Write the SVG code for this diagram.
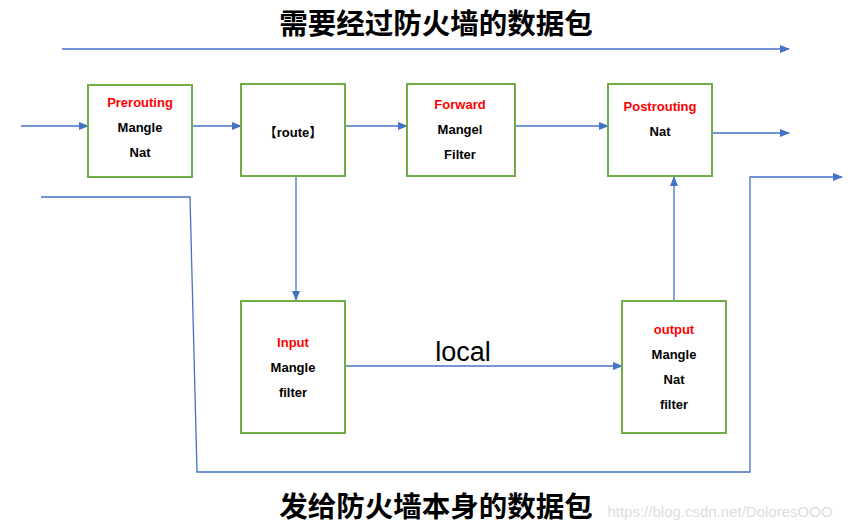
<svg xmlns="http://www.w3.org/2000/svg" width="859" height="529" viewBox="0 0 859 529">
<style>
.box{fill:#fff;stroke:#70AD47;stroke-width:2}
.ln{fill:none;stroke:#4472C4;stroke-width:1.3}
.t{font-family:"Liberation Sans","Noto Sans CJK SC",sans-serif;font-size:13px;font-weight:bold;text-anchor:middle;fill:#000}
.r{fill:#FF0000}
.h{font-family:"Noto Sans CJK SC",sans-serif;font-size:28.5px;font-weight:bold;text-anchor:middle}
</style>
<defs><marker id="a" markerWidth="10" markerHeight="8" refX="9" refY="4" orient="auto" markerUnits="userSpaceOnUse"><path d="M0,0L10,4L0,8z" fill="#4472C4"/></marker></defs>
<rect width="859" height="529" fill="#fff"/>
<text class="h" x="436" y="34">需要经过防火墙的数据包</text>
<text class="h" x="436" y="517">发给防火墙本身的数据包</text>
<g id="connectors">
<line class="ln" x1="62" y1="49" x2="789" y2="49" marker-end="url(#a)"/>
<line class="ln" x1="21" y1="126" x2="88" y2="126" marker-end="url(#a)"/>
<line class="ln" x1="192" y1="126" x2="241" y2="126" marker-end="url(#a)"/>
<line class="ln" x1="345" y1="126" x2="407" y2="126" marker-end="url(#a)"/>
<line class="ln" x1="515" y1="126" x2="608" y2="126" marker-end="url(#a)"/>
<line class="ln" x1="712" y1="133" x2="789" y2="133" marker-end="url(#a)"/>
<line class="ln" x1="296" y1="176" x2="296" y2="300" marker-end="url(#a)"/>
<line class="ln" x1="674" y1="301" x2="674" y2="177" marker-end="url(#a)"/>
<line class="ln" x1="345" y1="366" x2="622" y2="366" marker-end="url(#a)"/>
<polyline class="ln" points="41,197 190,197 197,472 750,472 750,177 842,177" marker-end="url(#a)"/>
</g>
<g id="prerouting"><rect class="box" x="88" y="85" width="104" height="92"/>
<text class="t r" x="140" y="107" font-size="11">Prerouting</text><text class="t" x="140" y="132" font-size="11">Mangle</text><text class="t" x="140" y="157" font-size="11">Nat</text></g>
<g id="route"><rect class="box" x="241" y="84" width="104" height="92"/><text class="t" x="293" y="137">【route】</text></g>
<g id="forward"><rect class="box" x="407" y="84" width="108" height="92"/>
<text class="t r" x="460" y="109">Forward</text><text class="t" x="460" y="134">Mangel</text><text class="t" x="460" y="159">Filter</text></g>
<g id="postrouting"><rect class="box" x="608" y="84" width="104" height="92"/>
<text class="t r" x="660" y="111">Postrouting</text><text class="t" x="660" y="136">Nat</text></g>
<g id="input"><rect class="box" x="241" y="301" width="104" height="132"/>
<text class="t r" x="293" y="347">Input</text><text class="t" x="293" y="372">Mangle</text><text class="t" x="293" y="397">filter</text></g>
<g id="output"><rect class="box" x="622" y="301" width="104" height="132"/>
<text class="t r" x="674" y="334">output</text><text class="t" x="674" y="359">Mangle</text><text class="t" x="674" y="384">Nat</text><text class="t" x="674" y="409">filter</text></g>
<text x="463" y="361" font-family="Liberation Sans,sans-serif" font-size="27" text-anchor="middle">local</text>
<text x="720" y="517" font-family="Liberation Sans,sans-serif" font-size="15" fill="#ddd" text-anchor="middle">https://blog.csdn.net/DoloresOOO</text>
</svg>
